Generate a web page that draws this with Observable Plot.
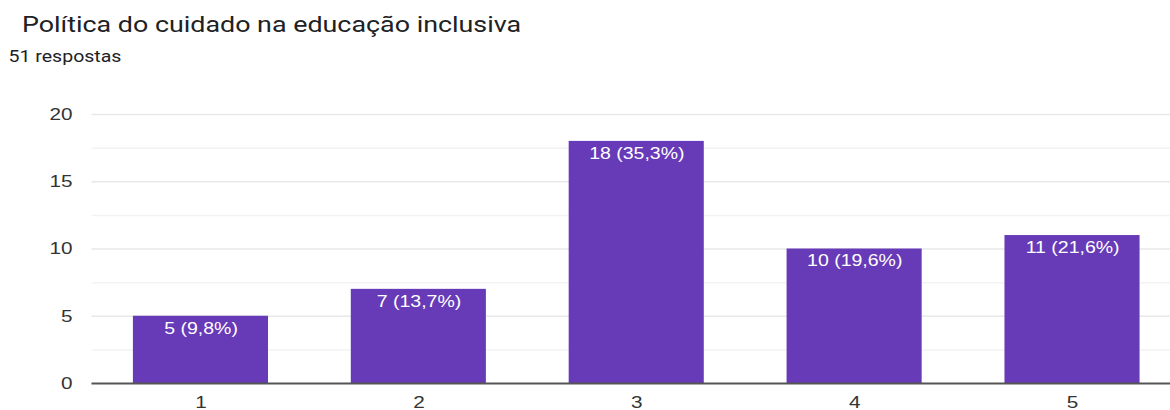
<!DOCTYPE html>
<html>
<head>
<meta charset="utf-8">
<script src="https://cdn.jsdelivr.net/npm/d3@7"></script>
<script src="https://cdn.jsdelivr.net/npm/@observablehq/plot@0.6"></script>
<style>
  html, body { margin: 0; padding: 0; background: #fff; overflow: hidden; }
  #wrap { position: relative; width: 959px; height: 410px; overflow: hidden; transform: scaleX(1.22); transform-origin: 0 0; }
  #title { position: absolute; left: 18px; top: 12px; font-family: Roboto, "Liberation Sans", sans-serif; font-size: 22px; color: #202124; white-space: nowrap; }
  #sub { position: absolute; left: 7px; top: 47px; font-family: Roboto, "Liberation Sans", sans-serif; font-size: 16px; color: #202124; white-space: nowrap; }
  #chart { position: absolute; left: 0; top: 80px; width: 968px; }
</style>
</head>
<body>
<div id="wrap">
  <div id="title">Política do cuidado na educação inclusiva</div>
  <div id="sub">51 respostas</div>
  <div id="chart"></div>
</div>
<script>
const categories = ["1", "2", "3", "4", "5"];
const counts = [5, 7, 18, 10, 11];
const percents = ["9,8%", "13,7%", "35,3%", "19,6%", "21,6%"];
const yTicks = [0, 5, 10, 15, 20];
const minorGrid = [2.5, 7.5, 12.5, 17.5];
const majorGrid = [5, 10, 15, 20];

const data = categories.map((c, i) => ({cat: c, value: counts[i], label: `${counts[i]} (${percents[i]})`}));

const chart = Plot.plot({
  width: 968,
  height: 330,
  marginLeft: 75,
  marginRight: 0,
  marginTop: 34,
  marginBottom: 27,
  style: {fontFamily: "'Liberation Sans', Arial, sans-serif", fontSize: "17px", color: "#333", background: "transparent", overflow: "visible", maxWidth: "none"},
  x: {domain: categories, paddingInner: 0.38, paddingOuter: 0.19, round: false, label: null},
  y: {domain: [0, 20], label: null},
  marks: [
    Plot.ruleY(minorGrid, {stroke: "#f3f3f3", strokeWidth: 1.5}),
    Plot.ruleY(majorGrid, {stroke: "#e8e8e8", strokeWidth: 1.5}),
    Plot.barY(data, {x: "cat", y: "value", fill: "#673ab7"}),
    Plot.ruleY([0], {stroke: "#555", strokeWidth: 2}),
    Plot.text(data, {x: "cat", y: "value", text: "label", fill: "white", fontSize: 16, lineAnchor: "top", dy: 6}),
    Plot.axisY({ticks: yTicks, tickSize: 0, tickPadding: 16, fontSize: 17, label: null}),
    Plot.axisX({tickSize: 0, tickPadding: 12, fontSize: 17, label: null})
  ]
});
document.getElementById("chart").appendChild(chart);
</script>
</body>
</html>
